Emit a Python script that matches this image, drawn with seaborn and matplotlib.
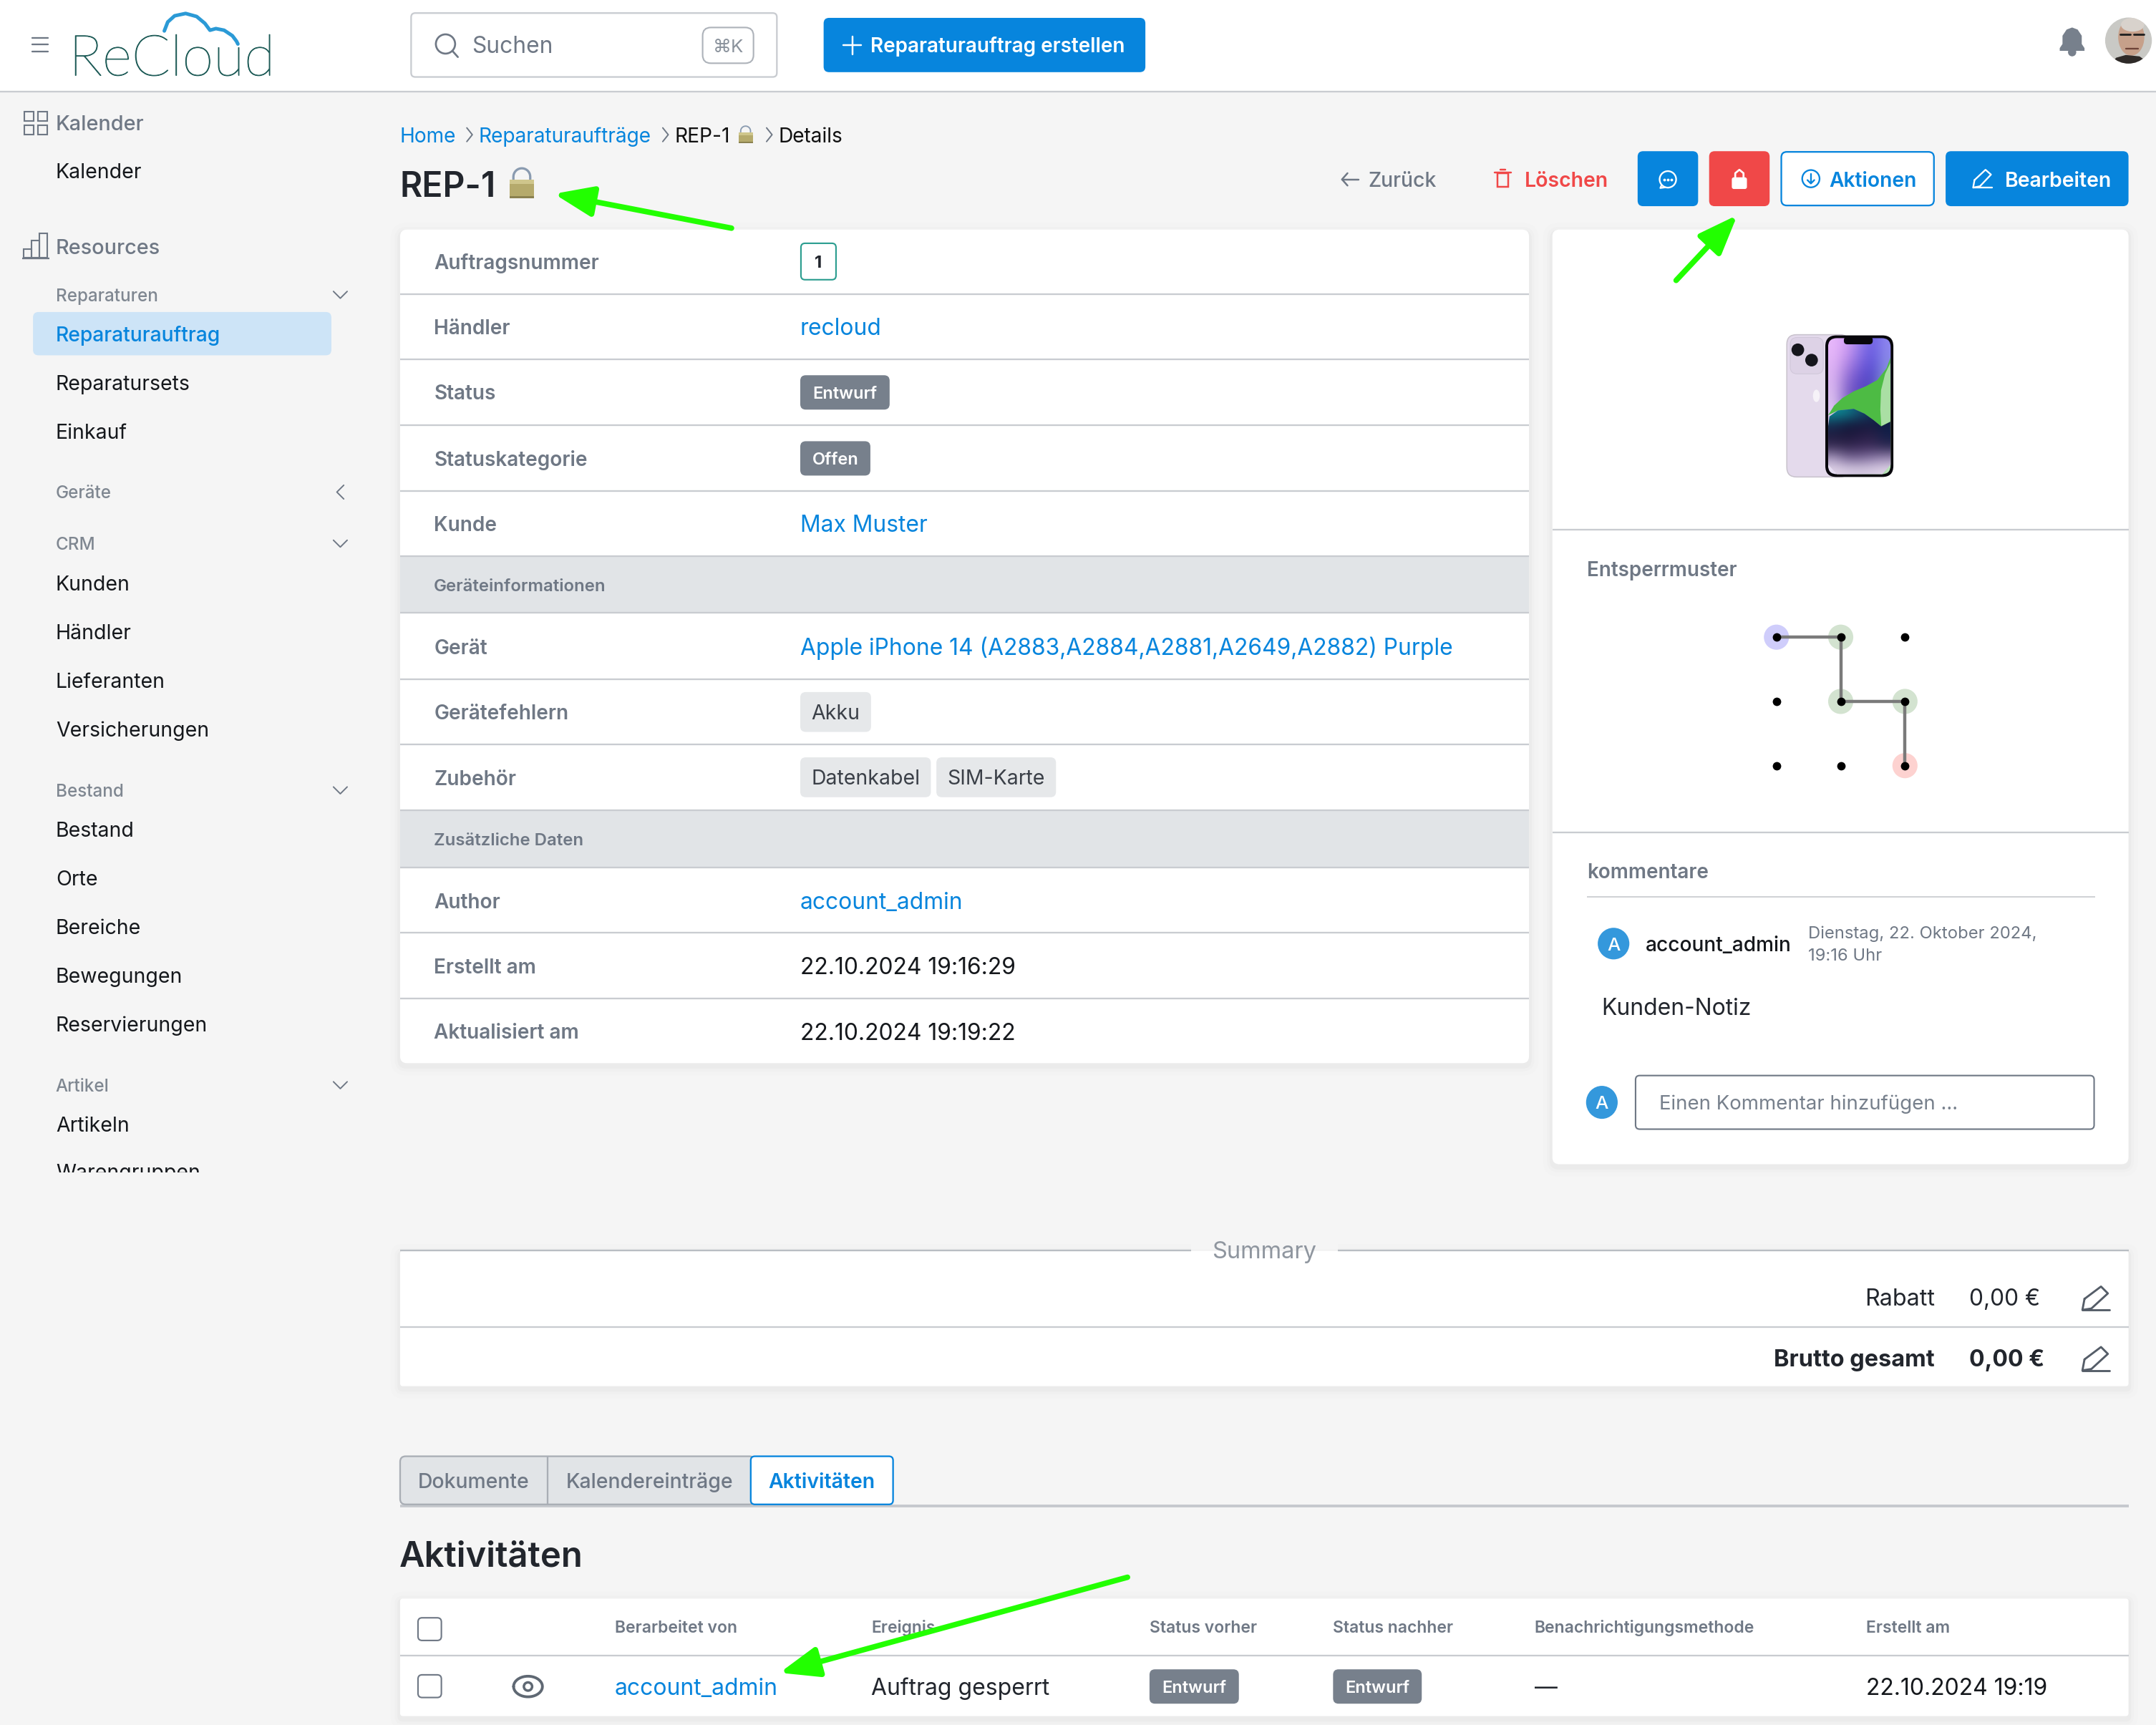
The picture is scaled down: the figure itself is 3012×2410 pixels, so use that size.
import matplotlib
matplotlib.use("Agg")
import matplotlib.pyplot as plt
import matplotlib.patheffects as pe
import seaborn as sns
import numpy as np
from matplotlib.patches import FancyBboxPatch, Rectangle, Circle, Ellipse, Polygon
from matplotlib.colors import to_rgb

sns.set_theme(style="white")
plt.rcParams['font.family'] = ['Inter', 'DejaVu Sans']

# texts
sidebar_heads = ["Kalender", "Resources"]
sidebar_groups = ["Reparaturen", "Geräte", "CRM", "Bestand", "Artikel"]
sidebar_links = ["Kalender", "Reparatursets", "Einkauf", "Kunden", "Händler", "Lieferanten",
                 "Versicherungen", "Bestand", "Orte", "Bereiche", "Bewegungen", "Reservierungen",
                 "Artikeln", "Warengruppen"]
crumbs = ["Home", "Reparaturaufträge", "REP-1", "Details"]
detail_labels = ["Auftragsnummer", "Händler", "Status", "Statuskategorie", "Kunde", "Gerät",
                 "Gerätefehlern", "Zubehör", "Author", "Erstellt am", "Aktualisiert am"]
section_labels = ["Geräteinformationen", "Zusätzliche Daten"]
link_values = ["recloud", "Max Muster", "Apple iPhone 14 (A2883,A2884,A2881,A2649,A2882) Purple", "account_admin"]
dates = ["22.10.2024 19:16:29", "22.10.2024 19:19:22"]
tabs = ["Dokumente", "Kalendereinträge", "Aktivitäten"]
table_heads = ["Berarbeitet von", "Ereignis", "Status vorher", "Status nachher", "Benachrichtigungsmethode", "Erstellt am"]
table_row = ["account_admin", "Auftrag gesperrt", "Entwurf", "Entwurf", "—", "22.10.2024 19:19"]

# unlock pattern, grid column/row of each dot
dot_cols = [0, 1, 2, 0, 1, 2, 0, 1, 2]
dot_rows = [0, 0, 0, 1, 1, 1, 2, 2, 2]
path_cols = [0, 1, 1, 2, 2]
path_rows = [0, 0, 1, 1, 2]
halo_kind = ["start", "mid", "mid", "mid", "end"]

# colours
BG = "#f5f5f5"
LINE = "#c9ccd1"
GRAY = "#6f7885"
BLUE = "#0785dd"
RED = "#f04848"
DARK = "#22262d"
SEC = "#e1e4e7"
CHIP = "#e6e8ea"
BADGE = "#77808c"
GREEN = "#22ff00"

W, H = 1568.0, 1255.0
PT = 3012 / W * 0.72  # screen px to points

fig = plt.figure(figsize=(30.12, 24.10), dpi=100, facecolor=BG)
ax = fig.add_axes([0, 0, 1, 1])
ax.set_xlim(0, W)
ax.set_ylim(H, 0)
ax.axis("off")


def t(x, y, s, size=15, color=DARK, weight="normal", ha="left", clip=None):
    # y is the middle of the capitals
    o = ax.text(x, y + 0.36 * size, s, fontsize=size * PT, color=color, fontweight=weight,
                ha=ha, va="baseline", zorder=6)
    if clip is not None:
        o.set_clip_path(clip)
        o.set_clip_on(True)
    return o


def box(x0, y0, x1, y1, fc="white", ec="none", lw=0, r=4, z=2):
    p = FancyBboxPatch((x0 + r, y0 + r), x1 - x0 - 2 * r, y1 - y0 - 2 * r,
                       boxstyle=f"round,pad={r},rounding_size={r}",
                       fc=fc, ec=ec, lw=lw * PT, zorder=z)
    ax.add_patch(p)
    return p


def hl(x0, x1, y, color=LINE, lw=1.2, z=3):
    ax.plot([x0, x1], [y, y], color=color, lw=lw * PT, zorder=z, solid_capstyle="butt")


def ln(xs, ys, color=GRAY, lw=1.3, z=6):
    ax.plot(xs, ys, color=color, lw=lw * PT, zorder=z, solid_capstyle="round", solid_joinstyle="round")


def card(x0, y0, x1, y1, r=5):
    for g, a in zip([7, 4, 2], [0.008, 0.012, 0.018]):
        p = box(x0 - g, y0 - g + 2, x1 + g, y1 + g + 2, fc="black", r=r + g, z=1)
        p.set_alpha(a)
    box(x0, y0, x1, y1, r=r, z=2)


def badge(x0, x1, yc, s, fc=BADGE, color="white", size=12.5, weight="semibold", h=25):
    box(x0, yc - h / 2, x1, yc + h / 2, fc=fc, r=4, z=4)
    t((x0 + x1) / 2, yc, s, size, color, weight, ha="center")


def chevron(x, y, d="down", c=GRAY, s=5):
    if d == "down":
        ln([x - s, x, x + s], [y - s / 2, y + s / 2, y - s / 2], c, 1)
    elif d == "left":
        ln([x + s / 2, x - s / 2, x + s / 2], [y - s, y, y + s], c, 1)
    else:
        ln([x - s / 2.5, x + s / 2.5, x - s / 2.5], [y - s, y, y + s], c, 1)


def arrow(x0, y0, x1, y1):
    ax.annotate("", xy=(x1, y1), xytext=(x0, y0), zorder=9, annotation_clip=False,
                arrowprops=dict(arrowstyle="-|>,head_length=1.6,head_width=0.62", color=GREEN,
                                lw=4 * PT, mutation_scale=15 * PT, shrinkA=0, shrinkB=0,
                                capstyle="round"))


# header
ax.add_patch(Rectangle((0, 0), W, 66, fc="white", ec="none", zorder=1))
hl(0, W, 66.5, LINE, 1.2)
for y in [27.5, 32.5, 37.5]:
    ln([23.5, 35], [y, y], GRAY, 1.2)
logo = t(50, 40, "ReCloud", 41.3, "#1f5c58", "light")
logo.set_fontfamily(["Lato", "DejaVu Sans"])
logo.set_path_effects([pe.withStroke(linewidth=0.5 * PT, foreground="#1f5c58")])
cloud_x = np.array([119.5, 122, 127, 135, 143, 149, 152.7, 157, 163, 169, 172, 173])
cloud_y = np.array([22.5, 16, 11.5, 9.8, 12, 17, 22, 20.8, 22, 26, 30, 32])
ax.plot(cloud_x, cloud_y, color="#2b9ad6", lw=2.6 * PT, zorder=7, solid_capstyle="round")
box(299, 9.5, 565, 56, ec=LINE, lw=1.2, r=3)
ax.add_patch(Circle((324, 32), 7, fc="none", ec=GRAY, lw=1.4 * PT, zorder=6))
ln([329, 333], [37, 41.5], GRAY, 1.4)
t(343, 32.5, "Suchen", 16.5, GRAY)
box(511, 20, 548, 46, ec="#aeb3ba", lw=1.1, r=6)
t(529.5, 33, "⌘K", 13.5, "#8a929c", ha="center")
box(599, 13, 833, 52.5, fc=BLUE, r=4)
ln([620, 620], [26.5, 39.5], "white", 1.3)
ln([613.5, 626.5], [33, 33], "white", 1.3)
t(633, 33, "Reparaturauftrag erstellen", 14.5, "white", "semibold")
# bell
ax.add_patch(Polygon([(1498, 35), (1500, 32), (1500, 26), (1503, 21.5), (1507, 20), (1511, 21.5),
                      (1514, 26), (1514, 32), (1516, 35), (1516, 37), (1498, 37)],
                     fc=BADGE, ec="none", zorder=6))
ax.add_patch(Circle((1507, 38), 3, fc=BADGE, ec="none", zorder=5))
# avatar
face_clip = Ellipse((1548, 29.5), 34, 33.5, fc="#c9c9c5", ec="none", zorder=5)
ax.add_patch(face_clip)
parts = [Ellipse((1550, 27), 19, 27, fc="#c6a08a", ec="none", zorder=6),
         Ellipse((1551, 18), 17, 10, fc="#d8d2cc", ec="none", zorder=6),
         Polygon([(1534, 48), (1539, 42), (1546, 40), (1556, 41), (1566, 48)], fc="#2e2a28", ec="none", zorder=7)]
for p in parts:
    ax.add_patch(p)
    p.set_clip_path(face_clip)
ln([1542, 1549], [25, 25], "#222222", 1.5, 8)
ln([1552, 1559], [25, 25], "#222222", 1.5, 8)
ln([1546, 1555], [35.5, 35.5], "#6d4338", 1.2, 8)

# sidebar
sidebar_clip = Rectangle((0, 66), 280, 787, transform=ax.transData)
for s, y in zip(sidebar_heads, [89.5, 179.5]):
    t(40.5, y, s, 15, GRAY, "medium")
for x, y in [(17.5, 81), (27.5, 81), (17.5, 91), (27.5, 91)]:
    ax.add_patch(Rectangle((x, y), 7, 7, fc="none", ec=GRAY, lw=1.1 * PT, zorder=6))
for x0, x1, y in [(17, 23, 181), (23, 28.5, 175), (28.5, 34.5, 170)]:
    ax.add_patch(Rectangle((x0, y), x1 - x0, 187.5 - y, fc="none", ec=GRAY, lw=1.1 * PT, zorder=6))
hl(16, 36, 188, GRAY, 1.2, 6)
group_y = [214.5, 358, 395.5, 575, 789.5]
for s, y, d in zip(sidebar_groups, group_y, ["down", "left", "down", "down", "down"]):
    t(40.5, y, s, 12.6, "#7f8791", "medium")
    chevron(247.5, y, d)
box(24, 227, 241, 258.5, fc="#cde4f7", r=4)
t(40.5, 243, "Reparaturauftrag", 14.7, BLUE, "medium")
link_y = [124.5, 278.5, 314, 424.5, 459.5, 495, 530.5, 603.5, 639, 674.5, 709.5, 745, 818, 852.5]
for s, y in zip(sidebar_links, link_y):
    t(40.5, y, s, 14.8, "#15181c", clip=sidebar_clip)

# breadcrumb and title
for s, x, c in zip(crumbs, [290.5, 348, 490.5, 566], [BLUE, BLUE, "#111111", "#111111"]):
    t(x, 98.3, s, 14.6, c)
for x in [341.5, 484, 559.5]:
    chevron(x, 98, "right", GRAY, 5)
t(290.5, 134, "REP-1", 25, DARK, "semibold")


def lock(x, y, w, h):
    # padlock emoji, x/y = top left
    theta = np.linspace(np.pi, 2 * np.pi, 20)
    sx = x + w / 2 + np.cos(theta) * w * 0.34
    sy = y + h * 0.3 + np.sin(theta) * h * 0.28
    ln(np.r_[sx[0], sx, sx[-1]], np.r_[y + h * 0.45, sy, y + h * 0.45], "#8a9bb0", h / 13, 6)
    ax.add_patch(Rectangle((x, y + h * 0.4), w, h * 0.6, fc="#b5aa6c", ec="none", zorder=7))
    ax.add_patch(Rectangle((x, y + h * 0.4), w, h * 0.14, fc="#cfc68c", ec="none", zorder=7))
    ax.add_patch(Rectangle((x, y + h * 0.93), w, h * 0.07, fc="#8a8150", ec="none", zorder=7))


lock(370.5, 122, 18, 22)
lock(537, 91.5, 10.5, 12.5)

# action buttons
ln([976, 988], [130.5, 130.5], GRAY, 1.3)
ln([980, 976, 980], [126, 130.5, 135], GRAY, 1.3)
t(995, 130.5, "Zurück", 14.8, GRAY, "medium")
ln([1087, 1099], [125.5, 125.5], RED, 1.3)
ax.add_patch(Rectangle((1089, 126), 8, 10, fc="none", ec=RED, lw=1.3 * PT, zorder=6))
ln([1091, 1095], [123.5, 123.5], RED, 1.3)
t(1109, 130.5, "Löschen", 14.8, RED, "semibold")
box(1191, 110, 1235, 150, fc=BLUE, r=4)
ax.add_patch(Circle((1213, 130.5), 6, fc="none", ec="white", lw=1.2 * PT, zorder=6))
ln([1208.5, 1207.5, 1211], [134.5, 136.8, 136.3], "white", 1.2, 7)
ax.scatter([1210.5, 1213, 1215.5], [130.5] * 3, s=3, color="white", zorder=7)
box(1243, 110, 1287, 150, fc=RED, r=4)
box(1259.5, 129, 1270.5, 137.5, fc="white", r=1.5, z=6)
ln([1262, 1262, 1265, 1268, 1268], [129, 126, 123.5, 126, 129], "white", 1.4)
box(1295.5, 110.5, 1406.5, 149.5, ec=BLUE, lw=1.2, r=4)
ax.add_patch(Circle((1317, 130), 6.3, fc="none", ec=BLUE, lw=1.2 * PT, zorder=6))
ln([1317, 1317], [126.5, 133.5], BLUE, 1.2)
ln([1314.5, 1317, 1319.5], [131, 133.5, 131], BLUE, 1.2)
t(1330, 130.5, "Aktionen", 14.7, BLUE, "semibold")
box(1415, 110, 1548, 150, fc=BLUE, r=4)
ln([1436, 1444, 1448, 1440, 1435, 1436], [131, 123.5, 127, 135.5, 136.5, 131], "white", 1.2)
ln([1435, 1449], [136.5, 136.5], "white", 1.2)
t(1458, 130.5, "Bearbeiten", 14.8, "white", "semibold")

# detail card
card(291, 167, 1112, 773.5)
ax.add_patch(Rectangle((291, 404.5), 821, 41.5, fc=SEC, ec="none", zorder=3))
ax.add_patch(Rectangle((291, 589.5), 821, 41.5, fc=SEC, ec="none", zorder=3))
for y in [214, 261.5, 309.5, 357, 404.5, 446, 494, 541.5, 589.5, 631, 678.5, 726.5]:
    hl(291, 1112, y)
detail_y = [190.5, 238, 285.5, 333.5, 381, 470.5, 518, 566, 655.5, 703, 750.5]
for s, y in zip(detail_labels, detail_y):
    t(315.6, y, s, 14.6, GRAY, "semibold")
for s, y in zip(section_labels, [425.5, 610.5]):
    t(315.6, y, s, 12.5, GRAY, "semibold")
box(582.5, 177, 608, 203.5, ec="#2b9d8f", lw=1.1, r=3)
t(595.2, 190.5, "1", 12.5, "#22262d", "bold", ha="center")
for s, y in zip(link_values, [238, 381, 470.5, 655.5]):
    t(582, y, s, 16.55, BLUE)
badge(582, 647, 285.5, "Entwurf", size=12.3)
badge(582, 633, 333.5, "Offen", size=12.3)
badge(582, 633.5, 518, "Akku", CHIP, "#3b4048", 14.8, "normal", 29)
badge(582, 677, 565.5, "Datenkabel", CHIP, "#3b4048", 14.8, "normal", 29)
badge(681, 768, 565.5, "SIM-Karte", CHIP, "#3b4048", 14.8, "normal", 29)
for s, y in zip(dates, [703, 750.5]):
    t(582, y, s, 16.55, "#15181c")

# right card
card(1129, 167, 1548, 847)
hl(1129, 1548, 385.5)
hl(1129, 1548, 605.5)
# phone back
box(1299.5, 243.5, 1345, 347, fc="#e4daec", ec="#c8c2cc", lw=0.8, r=7, z=3)
box(1302, 245.5, 1326, 272, fc="#ddd2e6", ec="#cfc6d8", lw=0.5, r=5, z=4)
ax.add_patch(Circle((1307.5, 254.5), 4.6, fc="#15151c", ec="none", zorder=5))
ax.add_patch(Circle((1317.5, 262), 4.6, fc="#15151c", ec="none", zorder=5))
ax.add_patch(Ellipse((1321, 288), 5, 9, fc="#f6f2f8", ec="none", zorder=5))
screen_top = [
    ["#e8b8fb", "#d6a0f5", "#9a80ec", "#6a5ce4", "#8e86f0"],
    ["#d8b0f0", "#8a68d0", "#5a44c8", "#4a40c8", "#8090d8"],
    ["#dcc4f0", "#7a5cc0", "#5a48b8", "#6058b0", "#a0c8a0"],
    ["#e8d8f4", "#c0a8e0", "#8070c0", "#5a9060", "#a0dc98"],
    ["#e8e0f4", "#d8d0ec", "#a0c0a0", "#70c070", "#c0e4c0"]]
screen_low = [
    ["#0c8a94", "#0e7888", "#145070", "#123058", "#0e1c44"],
    ["#152c50", "#141a3e", "#16183c", "#181a40", "#0e1c44"],
    ["#201c40", "#1c183a", "#241c44", "#2a2048", "#14204a"],
    ["#3c3058", "#342850", "#3a2a58", "#3e2e5c", "#2e2850"],
    ["#a898c0", "#7a6898", "#7a6898", "#8a78a8", "#9a88b4"],
    ["#e0d4e8", "#d8cce4", "#d4c8e0", "#d8cce4", "#e0d4e8"]]
frame = box(1327.5, 244, 1377, 347, fc="#08070c", r=8, z=4)
glass = box(1329.5, 246, 1375, 345, fc="none", r=6.5, z=5)
img_top = np.array([[to_rgb(c) for c in row] for row in screen_top])
im = ax.imshow(img_top, extent=(1329.5, 1375, 345, 246), aspect="auto", interpolation="bicubic", zorder=5)
im.set_clip_path(glass)
green_edge = [(1374.8, 260.3), (1372, 268), (1365.3, 276.5), (1357, 281), (1348.2, 284.7), (1340, 289.5), (1333.9, 295.1), (1329.6, 302.1),
              (1336.7, 298.6), (1348.2, 297.5), (1356, 301), (1362.5, 305.6), (1368.2, 310.2), (1374.8, 306.8)]
g = Polygon(green_edge, fc="#4dbb44", ec="none", zorder=5.2)
ax.add_patch(g)
g.set_clip_path(glass)
g2 = Polygon([(1374.8, 264), (1371, 272), (1368, 284), (1367.5, 298), (1368.2, 310), (1374.8, 306.8)], fc="#aadfa4", ec="none", zorder=5.3)
ax.add_patch(g2)
g2.set_clip_path(glass)
low_edge = Polygon([(1329.6, 310), (1330.5, 303), (1336.7, 298.6), (1348.2, 297.5), (1356, 301), (1362.5, 305.6), (1368.2, 310.2),
                    (1374.8, 306.8), (1375, 338), (1369, 345), (1336, 345), (1329.6, 338)],
                   transform=ax.transData, fc="none", ec="none", zorder=5.4)
ax.add_patch(low_edge)
img_low = np.array([[to_rgb(c) for c in row] for row in screen_low])
im2 = ax.imshow(img_low, extent=(1329.5, 1375, 345, 297), aspect="auto", interpolation="bicubic", zorder=5.4)
im2.set_clip_path(low_edge)
ax.set_xlim(0, W)
ax.set_ylim(H, 0)
box(1341, 245, 1362, 250.5, fc="#08070c", r=2.5, z=6)

t(1154, 414, "Entsperrmuster", 14.5, GRAY, "semibold")
t(1154, 633.5, "kommentare", 14.5, GRAY, "semibold")
hl(1154, 1523.5, 652.5, "#cfd1d4", 1)
ax.add_patch(Ellipse((1173.5, 686.5), 23, 23, fc="#3498dc", ec="none", zorder=5))
t(1173.5, 686.5, "A", 13.5, "white", "medium", ha="center")
t(1197, 687, "account_admin", 14.6, "#15181c", "medium")
t(1315, 678, "Dienstag, 22. Oktober 2024,", 12.4, GRAY)
t(1315, 694.5, "19:16 Uhr", 12.4, GRAY)
t(1164.5, 732.5, "Kunden-Notiz", 16.6, "#22262d")
ax.add_patch(Ellipse((1165, 802), 23, 24, fc="#3498dc", ec="none", zorder=5))
t(1165, 802, "A", 13.5, "white", "medium", ha="center")
box(1189.5, 782.5, 1523, 821.5, ec=GRAY, lw=1.1, r=3)
t(1206.5, 802, "Einen Kommentar hinzufügen ...", 14.4, "#77808c")

# unlock pattern on its own small axes
pax = fig.add_axes([1268.6 / W, 1 - 580.4 / H, 140.2 / W, 140.2 / H])
pax.set_xlim(-0.5, 2.5)
pax.set_ylim(2.5, -0.5)
pax.patch.set_alpha(0)
sns.scatterplot(x=path_cols, y=path_rows, hue=halo_kind, hue_order=["start", "mid", "end"],
                palette=["#cfcdfb", "#d3e3d0", "#fdd2d0"], s=640, linewidth=0, legend=False, ax=pax, zorder=1)
sns.lineplot(x=path_cols, y=path_rows, sort=False, estimator=None, color="#7a7a7a", linewidth=3.2, ax=pax, zorder=2)
sns.scatterplot(x=dot_cols, y=dot_rows, color="black", s=72, linewidth=0, legend=False, ax=pax, zorder=3)
pax.axis("off")

# summary
card(291, 910, 1548, 1008.5, r=2)
hl(291, 866, 909.5, "#b9bdc3", 1.2)
hl(973, 1548, 909.5, "#b9bdc3", 1.2)
ax.add_patch(Rectangle((866, 900), 107, 9, fc=BG, ec="none", zorder=2))
t(919.5, 909.5, "Summary", 17, "#8f969f", ha="center")
hl(291, 1548, 965.5)
t(1407, 944, "Rabatt", 16.8, "#22262d", ha="right")
t(1432, 944, "0,00 €", 16.5, "#22262d")
t(1407, 988, "Brutto gesamt", 16.9, "#22262d", "bold", ha="right")
t(1432, 988, "0,00 €", 16.7, "#22262d", "bold")
for yc in [944, 988]:
    ln([1516, 1528, 1533, 1521, 1514.5, 1516], [yc + 1, yc - 8, yc - 3, yc + 8, yc + 9, yc + 1], "#555d68", 1.5)
    ln([1514.5, 1534], [yc + 9, yc + 9], "#555d68", 1.5)

# tabs
hl(291, 1548, 1095.5, "#c5c8cd", 2)
box(291, 1059.5, 549, 1094.5, fc=SEC, ec="#a9aeb5", lw=1.2, r=4, z=3)
ln([398, 398], [1060, 1094], "#a9aeb5", 1.2, 4)
box(546, 1059.5, 649.5, 1094.5, fc="white", ec=BLUE, lw=1.2, r=3, z=4)
for s, x, c in zip(tabs, [304, 411.5, 559], [GRAY, GRAY, BLUE]):
    t(x, 1077.5, s, 14.8, c, "medium" if c == GRAY else "semibold")
t(290.5, 1130.5, "Aktivitäten", 25.5, DARK, "semibold")

# table
card(291, 1163, 1548, 1248.5, r=2)
hl(291, 1548, 1204.5)
box(304, 1177, 321, 1193.5, ec=GRAY, lw=1.1, r=3, z=4)
box(304, 1218.5, 321, 1235, ec=GRAY, lw=1.1, r=3, z=4)
th_x = [447, 633.5, 836, 969.5, 1116, 1357]
for s, x in zip(table_heads, th_x):
    t(x, 1183.5, s, 11.95, GRAY, "semibold")
t(447, 1227, table_row[0], 16.6, BLUE)
t(633.5, 1227, table_row[1], 16.6, "#22262d")
badge(836, 901, 1227, table_row[2], size=12.3)
badge(969.5, 1034, 1227, table_row[3], size=12.3)
t(1116, 1227, table_row[4], 16.6, "#22262d")
t(1357, 1227, table_row[5], 16.6, "#15181c")
# eye
th = np.linspace(0, np.pi, 20)
ln(np.r_[373.5 + 21 * (1 - np.cos(th)) / 2, 394.5 - 21 * (1 - np.cos(th)) / 2],
   np.r_[1227 - 7.5 * np.sin(th), 1227 + 7.5 * np.sin(th)], "#5f6873", 2)
ax.add_patch(Circle((384, 1227), 3, fc="none", ec="#5f6873", lw=1.8 * PT, zorder=6))

# green arrows
arrow(532, 166, 403, 141)
arrow(1219, 204, 1263.5, 156.5)
arrow(820, 1147.5, 567, 1217)

fig.savefig("out.png", dpi=100, facecolor=BG)
